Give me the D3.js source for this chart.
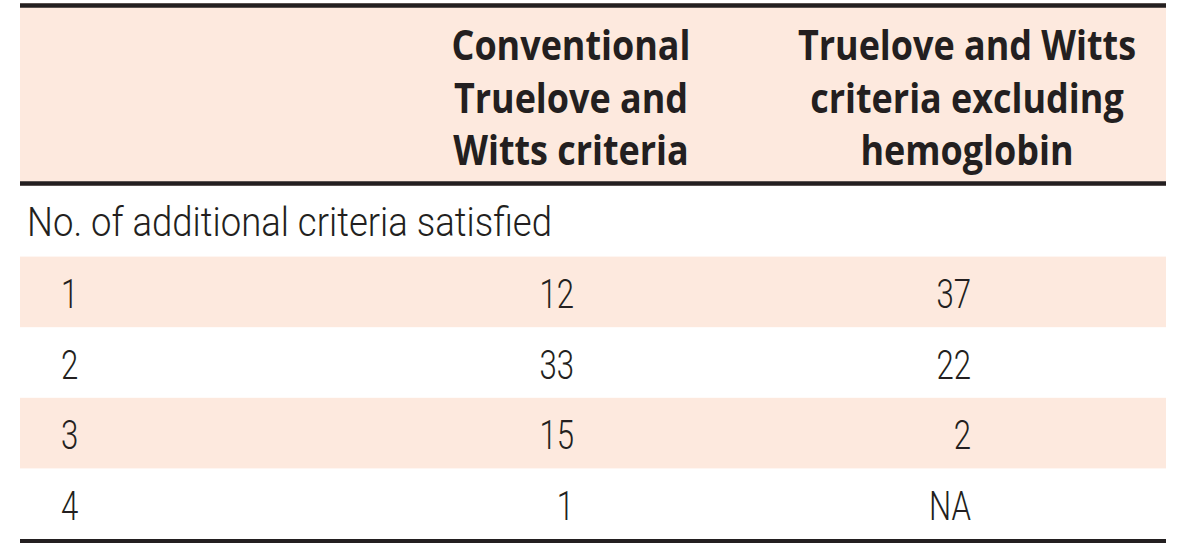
<!DOCTYPE html>
<html>
<head>
<meta charset="utf-8">
<script src="https://cdn.jsdelivr.net/npm/d3@7"></script>
<style>
body{margin:0;background:#fff;}
svg{display:block;}
</style>
</head>
<body>
<div id="table"></div>
<script>
// table contents
var rowLabels=["1","2","3","4"];
var conventional=[12,33,15,1];
var excludingHb=[37,22,2,null];   // null -> NA
var colHeaders=[["Conventional","Truelove and","Witts criteria"],
                ["Truelove and Witts","criteria excluding","hemoglobin"]];
var subHeader="No. of additional criteria satisfied";

var w=1200,h=548;
var pad={left:20,right:34};
var headTop=3,headBottom=186,tableBottom=539;
var peach="#fde9de",ink="#231f20";
var bodyFont="Roboto",headFont="Open Sans";
var bodySquash=0.76,subSquash=0.89,headSquash=0.855;

var svg=d3.select("#table")
          .append("svg")
          .attr("width",w)
          .attr("height",h);

//rows below the header: sub header then the data rows
var yScale=d3.scaleBand()
             .domain(["sub"].concat(rowLabels))
             .range([headBottom,tableBottom]);

//column anchors
var colScale=d3.scaleOrdinal()
               .domain(["label","conv","hb"])
               .range([61,574,971]);
var headCenter=d3.scaleOrdinal()
                 .domain([0,1])
                 .range([571,967]);

//squeeze text horizontally to imitate the condensed face
function squash(sel,k){
    sel.each(function(){
        var len=this.getComputedTextLength();
        d3.select(this).attr("textLength",len*k).attr("lengthAdjust","spacingAndGlyphs");
    });
}

//header background
svg.append("rect")
   .attr("x",pad.left)
   .attr("y",headTop)
   .attr("width",w-pad.left-pad.right)
   .attr("height",headBottom-headTop)
   .style("fill",peach);

//striped rows
var rows=rowLabels.map(function(r,i){
    return {label:r,conv:conventional[i],hb:excludingHb[i],i:i};
});
svg.selectAll("rect.band")
   .data(rows.filter(function(d){return d.i%2==0;}))
   .enter()
   .append("rect")
   .attr("class","band")
   .attr("x",pad.left)
   .attr("y",function(d){return yScale(d.label);})
   .attr("width",w-pad.left-pad.right)
   .attr("height",yScale.bandwidth())
   .style("fill",peach);

//rules
var rules=[{y:headTop+2.5,t:4.5},{y:headBottom-2.5,t:4.5},{y:tableBottom+2,t:4}];
svg.selectAll("line.rule")
   .data(rules)
   .enter()
   .append("line")
   .attr("class","rule")
   .attr("x1",pad.left)
   .attr("x2",w-pad.right)
   .attr("y1",function(d){return d.y;})
   .attr("y2",function(d){return d.y;})
   .style("stroke",ink)
   .style("stroke-width",function(d){return d.t;});

//column headers
var lineGap=52.5,firstBase=60;
colHeaders.forEach(function(lines,c){
    var t=svg.selectAll("text.head"+c)
       .data(lines)
       .enter()
       .append("text")
       .attr("class","head"+c)
       .attr("x",headCenter(c))
       .attr("y",function(d,i){return firstBase+i*lineGap;})
       .attr("text-anchor","middle")
       .style("font-family",headFont)
       .style("font-weight","bold")
       .style("font-size","42px")
       .style("fill",ink)
       .text(function(d){return d;});
    squash(t,headSquash);
});

//body text
function bodyText(x,y,anchor,txt,k){
    var t=svg.append("text")
       .attr("x",x)
       .attr("y",y)
       .attr("text-anchor",anchor)
       .style("font-family",bodyFont)
       .style("font-weight",300)
       .style("font-size","41px")
       .style("fill",ink)
       .text(txt);
    squash(t,k);
    return t;
}
var baseShift=yScale.bandwidth()/2+16;
bodyText(27,yScale("sub")+baseShift-1,"start",subHeader,subSquash);
rows.forEach(function(d){
    var y=yScale(d.label)+baseShift;
    bodyText(colScale("label"),y,"start",d.label,bodySquash);
    bodyText(colScale("conv"),y,"end",d.conv,bodySquash);
    bodyText(colScale("hb"),y,"end",d.hb==null?"NA":d.hb,bodySquash);
});
</script>
</body>
</html>
